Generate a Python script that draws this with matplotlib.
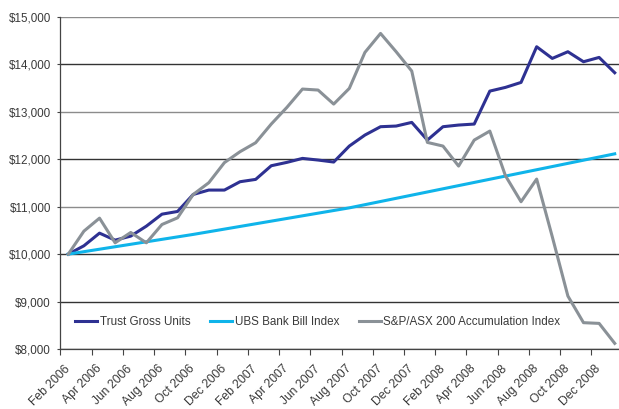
import numpy as np
import pandas as pd
import matplotlib
matplotlib.use("Agg")
import matplotlib.pyplot as plt
from matplotlib.transforms import ScaledTranslation

# months Feb 2006 .. Jan 2009
months = pd.date_range("2006-02-01", periods=36, freq="MS").strftime("%b %Y").tolist()

trust = [10000, 10176, 10443, 10295, 10380, 10590, 10843, 10900, 11258, 11351,
         11351, 11527, 11576, 11864, 11935, 12019, 11984, 11942, 12279, 12511,
         12687, 12701, 12778, 12405, 12687, 12722, 12743, 13438, 13516, 13621,
         14373, 14127, 14268, 14057, 14148, 13825]

ubs = [10000, 10052, 10104, 10156, 10208, 10260, 10312, 10364, 10416, 10472,
       10528, 10584, 10640, 10696, 10752, 10808, 10864, 10920, 10976, 11043,
       11110, 11177, 11244, 11311, 11378, 11445, 11512, 11579, 11646, 11713,
       11780, 11847, 11914, 11981, 12048, 12115]

asx = [10000, 10485, 10759, 10239, 10457, 10239, 10625, 10766, 11258, 11506,
       11930, 12160, 12349, 12743, 13094, 13481, 13460, 13164, 13495, 14254,
       14654, 14268, 13860, 12356, 12279, 11857, 12405, 12595, 11654, 11105,
       11583, 10368, 9117, 8555, 8540, 8119]

series_names = ["Trust Gross Units", "UBS Bank Bill Index", "S&P/ASX 200 Accumulation Index"]
colors = ["#2e3192", "#0fb4ea", "#8a9197"]

plt.rcParams["font.family"] = ["Liberation Sans", "DejaVu Sans"]
txt = "#3a3a3a"
fs = 8.4

fig = plt.figure(figsize=(6.19, 4.09), dpi=100)
ax = fig.add_axes([0.0977, 0.1467, 0.908, 0.8117])

x = np.arange(len(months))

# gridlines (alternating shade like the original)
for v in range(8000, 15001, 1000):
    c = "#8c8c8c" if v in (15000, 13000, 11000) else "#333333"
    ax.axhline(v, color=c, lw=1.0, zorder=1)

ax.plot(x, trust, color=colors[0], lw=2.2, label=series_names[0], zorder=3)
ax.plot(x, ubs, color=colors[1], lw=2.2, label=series_names[1], zorder=3)
ax.plot(x, asx, color=colors[2], lw=2.2, label=series_names[2], zorder=3)

ax.set_xlim(-0.5, len(months) - 0.5)
ax.set_ylim(8000, 15000)

# y axis
ax.set_yticks(range(8000, 15001, 1000))
ax.set_yticklabels(["${:,}".format(v) for v in range(8000, 15001, 1000)])
ax.tick_params(axis="y", length=2, width=0.8, color="#444444", pad=5,
               labelsize=fs, labelcolor=txt)

# x axis: labels every 2 months, tick marks between categories
ax.set_xticks(x[::2])
ax.set_xticklabels(months[::2], rotation=45, ha="right", va="top",
                   rotation_mode="anchor")
ax.set_xticks(np.arange(-0.5, len(months) - 1, 2), minor=True)
ax.tick_params(axis="x", which="major", length=0, pad=10, labelsize=8.7, labelcolor=txt)
ax.tick_params(axis="x", which="minor", length=4, width=0.8, color="#444444")
# nudge labels a bit left
shift = ScaledTranslation(-3 / 72, 0, fig.dpi_scale_trans)
for lab in ax.get_xticklabels():
    lab.set_transform(lab.get_transform() + shift)

for s in ["top", "right"]:
    ax.spines[s].set_visible(False)
ax.spines["left"].set_color("#444444")
ax.spines["bottom"].set_color("#444444")
ax.spines["left"].set_linewidth(0.9)
ax.spines["bottom"].set_linewidth(0.9)

ax.legend(loc="center left", bbox_to_anchor=(0.026, 0.081), ncol=3, frameon=False,
          fontsize=fs, labelcolor=txt, handlelength=1.9, handletextpad=0.2,
          columnspacing=1.7, borderpad=0, borderaxespad=0)

fig.savefig("out.png", dpi=100)
